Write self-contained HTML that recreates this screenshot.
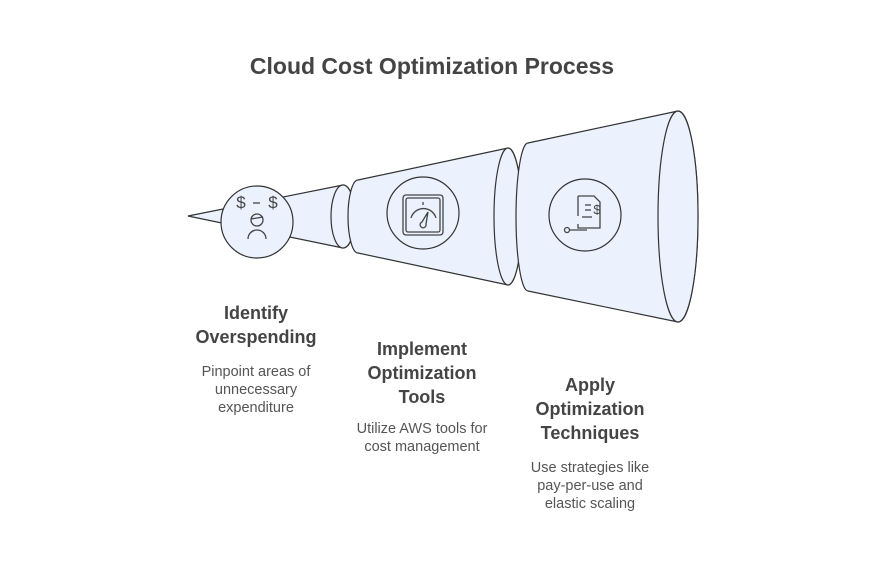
<!DOCTYPE html>
<html><head><meta charset="utf-8"><style>
body{margin:0;background:#fff;width:876px;height:558px;overflow:hidden;font-family:"Liberation Sans",sans-serif}
</style></head><body>
<svg width="876" height="558" viewBox="0 0 876 558" xmlns="http://www.w3.org/2000/svg" font-family="Liberation Sans, sans-serif">
<text x="432" y="74" text-anchor="middle" font-size="23" font-weight="bold" fill="#444">Cloud Cost Optimization Process</text>
<g stroke="#333" stroke-width="1.2" fill="#ebf2fe">
<path d="M188,216 L343,185 A12,31.5 0 0 1 343,248 Z"/>
<ellipse cx="343" cy="216.5" rx="12" ry="31.5"/>
<path d="M358,180 L508,148 A14,68.5 0 0 1 508,285 L358,253 A10,36.5 0 0 1 358,180 Z"/>
<ellipse cx="508" cy="216.5" rx="14" ry="68.5"/>
<path d="M528,143 L678,111 A20,105.5 0 0 1 678,322 L528,291 A12,74 0 0 1 528,143 Z"/>
<ellipse cx="678" cy="216.5" rx="20" ry="105.5"/>
</g>
<g stroke="#333" stroke-width="1.2" fill="#ebf2fe">
<circle cx="257" cy="222" r="36"/>
<circle cx="423" cy="213" r="36"/>
<circle cx="585" cy="215" r="36"/>
</g>
<g stroke="#444" stroke-width="1.3" fill="none">
<text x="241" y="208" font-size="17" fill="#444" stroke="none" text-anchor="middle">$</text>
<text x="273" y="208" font-size="17" fill="#444" stroke="none" text-anchor="middle">$</text>
<line x1="253" y1="203" x2="260" y2="203"/>
<circle cx="257" cy="220" r="6"/>
<line x1="251" y1="219" x2="263" y2="217"/>
<path d="M248,239 A9,9 0 0 1 266,239"/>
<rect x="403" y="195" width="40" height="40" rx="3"/>
<rect x="406" y="198" width="34" height="34" rx="2"/>
<path d="M411,218 A13,13 0 0 1 436,218"/>
<line x1="423" y1="202" x2="423" y2="205"/>
<path d="M428,212 L422,222 A3,3 0 1 0 426,224 Z"/>
<path d="M578,196 L594,196 L600,202 L600,228 L578,228 L578,224"/>
<line x1="578" y1="196" x2="578" y2="216"/>
<line x1="585" y1="205" x2="591" y2="205"/>
<line x1="585" y1="210" x2="591" y2="210"/>
<line x1="582" y1="217" x2="592" y2="217"/>
<circle cx="567" cy="230" r="2.5"/>
<line x1="570" y1="230" x2="587" y2="230"/>
<text x="597" y="214" font-size="13" fill="#444" stroke="none" text-anchor="middle">$</text>
</g>
<g fill="#444" text-anchor="middle">
<text x="256" y="319" font-size="18" font-weight="bold">Identify</text>
<text x="256" y="343" font-size="18" font-weight="bold">Overspending</text>
<text x="256" y="376" font-size="14.5" fill="#555">Pinpoint areas of</text>
<text x="256" y="394" font-size="14.5" fill="#555">unnecessary</text>
<text x="256" y="412" font-size="14.5" fill="#555">expenditure</text>
<text x="422" y="355" font-size="18" font-weight="bold">Implement</text>
<text x="422" y="379" font-size="18" font-weight="bold">Optimization</text>
<text x="422" y="403" font-size="18" font-weight="bold">Tools</text>
<text x="422" y="433" font-size="14.5" fill="#555">Utilize AWS tools for</text>
<text x="422" y="451" font-size="14.5" fill="#555">cost management</text>
<text x="590" y="391" font-size="18" font-weight="bold">Apply</text>
<text x="590" y="415" font-size="18" font-weight="bold">Optimization</text>
<text x="590" y="439" font-size="18" font-weight="bold">Techniques</text>
<text x="590" y="472" font-size="14.5" fill="#555">Use strategies like</text>
<text x="590" y="490" font-size="14.5" fill="#555">pay-per-use and</text>
<text x="590" y="508" font-size="14.5" fill="#555">elastic scaling</text>
</g>
</svg>
</body></html>
